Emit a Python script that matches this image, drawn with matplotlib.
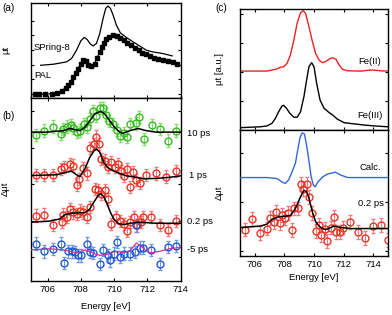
import matplotlib
matplotlib.use("Agg")
import matplotlib.pyplot as plt

plt.rcParams['font.family'] = ['Liberation Sans', 'DejaVu Sans']
plt.rcParams['font.size'] = 6.6

# ---------------- Panel (a) ----------------
spring8_E = [705.58, 706.34, 707.14, 707.44, 707.74, 708.0, 708.2, 708.38, 708.58, 708.74, 708.94,
             709.14, 709.34, 709.5, 709.64, 709.78, 709.94, 710.14, 710.38, 710.74, 711.14, 711.54,
             711.94, 712.34, 712.94, 713.5]
spring8_mu = [1.95, 2.02, 2.18, 2.41, 2.98, 3.62, 3.85, 3.71, 3.39, 3.27, 3.44,
              4.12, 5.15, 5.84, 5.99, 5.84, 5.38, 4.69, 4.16, 3.85, 3.55, 3.27,
              2.98, 2.86, 2.75, 2.59]
pal_E = [705.24, 705.5, 705.84, 706.24, 706.54, 706.84, 707.08, 707.24, 707.38, 707.54, 707.7,
         707.84, 707.98, 708.14, 708.3, 708.44, 708.64, 708.84, 708.98, 709.14, 709.28, 709.4,
         709.54, 709.7, 709.94, 710.18, 710.38, 710.58, 710.78, 711.0, 711.24, 711.48, 711.7,
         711.94, 712.18, 712.4, 712.64, 712.94, 713.24, 713.54, 713.78]
pal_mu = [-0.03, -0.03, -0.01, 0.01, 0.06, 0.19, 0.42, 0.58, 0.81, 1.15, 1.42,
          1.72, 2.07, 2.29, 2.23, 1.95, 1.93, 2.07, 2.48, 2.86, 3.21, 3.5,
          3.73, 3.89, 4.0, 3.94, 3.78, 3.66, 3.5, 3.32, 3.14, 2.98, 2.82,
          2.71, 2.59, 2.48, 2.41, 2.29, 2.23, 2.14, 2.07]

# ---------------- Panel (b) ----------------
g10_E = [705.28, 705.78, 706.3, 706.78, 706.94, 707.14, 707.38, 707.54, 707.74, 707.94, 708.18,
         708.38, 708.58, 708.74, 708.94, 709.14, 709.34, 709.5, 709.7, 709.94, 710.18, 710.38,
         710.6, 710.78, 710.94, 711.3, 711.5, 711.78, 712.3, 712.74, 713.24, 713.74]
g10_v = [3.35, 3.47, 3.58, 3.38, 3.52, 3.58, 3.63, 3.54, 3.44, 3.47, 3.65,
         3.58, 3.79, 4.0, 3.88, 4.09, 4.09, 3.91, 3.73, 3.65, 3.49, 3.33,
         3.40, 3.29, 3.65, 3.67, 3.84, 3.24, 3.62, 3.52, 3.2, 3.47]
g10_fitE = [705.0, 705.94, 706.94, 707.34, 707.64, 707.94, 708.24, 708.54, 708.84, 709.18, 709.44,
            709.74, 710.04, 710.34, 710.54, 710.94, 711.44, 711.94, 712.54, 714.0]
g10_fit = [3.43, 3.43, 3.47, 3.53, 3.50, 3.47, 3.56, 3.74, 3.93, 4.0, 3.93,
           3.74, 3.56, 3.43, 3.40, 3.47, 3.53, 3.47, 3.43, 3.43]

r1_E = [705.28, 705.78, 706.3, 706.78, 707.0, 707.34, 707.54, 707.74, 707.9, 708.14, 708.38,
        708.54, 708.78, 708.94, 709.1, 709.24, 709.44, 709.64, 709.84, 710.04, 710.24, 710.44,
        710.6, 710.78, 710.94, 711.14, 711.34, 711.54, 711.9, 712.5, 713.14, 713.74]
r1_v = [2.26, 2.26, 2.26, 2.42, 2.47, 2.56, 2.51, 1.99, 2.15, 2.45, 2.30,
        3.0, 3.11, 3.31, 3.11, 2.69, 2.65, 2.47, 2.60, 2.48, 2.56, 2.36,
        2.24, 2.42, 1.92, 2.33, 2.12, 2.03, 2.26, 2.30, 2.21, 2.36]
r1_fitE = [705.0, 706.54, 707.14, 707.44, 707.74, 707.94, 708.24, 708.54, 708.8, 708.94, 709.14,
           709.38, 709.64, 709.94, 710.34, 710.74, 711.34, 711.74, 712.54, 713.34, 714.0]
r1_fit = [2.24, 2.26, 2.33, 2.36, 2.26, 2.21, 2.42, 2.74, 2.92, 2.97, 2.88,
          2.60, 2.45, 2.37, 2.30, 2.23, 2.19, 2.15, 2.16, 2.19, 2.23]

r02_E = [705.28, 705.78, 706.3, 706.84, 706.94, 707.14, 707.34, 707.54, 707.74, 707.94, 708.14,
         708.38, 708.54, 708.84, 709.04, 709.24, 709.44, 709.64, 709.84, 710.1, 710.34, 710.6,
         710.78, 710.94, 711.18, 711.38, 711.64, 711.74, 712.24, 712.74, 713.24, 713.74]
r02_v = [1.14, 1.17, 0.89, 0.96, 1.17, 1.10, 1.32, 1.23, 1.19, 1.28, 1.23,
         1.11, 1.37, 1.87, 1.84, 1.74, 1.84, 1.60, 0.91, 1.10, 1.0, 0.91,
         0.73, 0.96, 1.10, 0.87, 0.96, 1.10, 1.11, 0.89, 0.75, 1.0]
r02_fitE = [705.0, 706.14, 706.74, 707.04, 707.54, 708.24, 708.54, 708.84, 709.04, 709.2, 709.38,
            709.58, 709.78, 709.98, 710.24, 710.54, 710.94, 711.54, 712.54, 714.0]
r02_fit = [0.96, 0.99, 1.05, 1.17, 1.21, 1.22, 1.32, 1.55, 1.69, 1.74, 1.66,
           1.46, 1.23, 1.05, 0.93, 0.89, 0.93, 0.96, 0.93, 0.93]

b5_E = [705.28, 705.78, 706.3, 706.78, 707.0, 707.24, 707.44, 707.64, 707.84, 708.04, 708.38,
        708.58, 708.74, 709.14, 709.34, 709.64, 709.78, 709.98, 710.18, 710.38, 710.58, 710.94,
        711.24, 711.34, 711.54, 711.74, 712.24, 712.74, 713.24, 713.74]
b5_v = [0.37, 0.16, 0.23, 0.37, -0.16, 0.16, 0.16, 0.14, 0.05, 0.05, 0.37,
        0.14, 0.12, -0.18, 0.20, 0.05, -0.09, 0.10, 0.42, 0.0, 0.10, 0.10,
        0.14, 0.87, 0.26, 0.26, 0.19, -0.18, 0.28, 0.30]
b5_fitE = [705.0, 706.14, 706.94, 707.54, 707.94, 708.24, 708.54, 708.84, 709.14, 709.54, 709.94,
           710.24, 710.54, 710.94, 711.14, 711.34, 711.64, 711.94, 712.24, 712.74, 713.34, 714.0]
b5_fit = [0.20, 0.23, 0.20, 0.14, 0.14, 0.20, 0.16, 0.09, 0.05, 0.07, 0.14,
          0.16, 0.11, 0.18, 0.27, 0.39, 0.30, 0.16, 0.12, 0.16, 0.23, 0.27]
err_b = 0.17

# ---------------- Panel (c) ----------------
fe2_E = [705.0, 706.82, 707.39, 707.73, 707.95, 708.18, 708.41, 708.64, 708.86, 709.09, 709.27,
         709.43, 709.66, 709.89, 710.11, 710.34, 710.57, 710.8, 711.02, 711.25, 711.48, 711.7,
         711.93, 712.27, 713.18, 713.86, 714.55, 715.0]
fe2_mu = [2.03, 2.03, 2.09, 2.16, 2.18, 2.30, 2.59, 3.10, 3.68, 4.04, 4.11,
          4.02, 3.56, 3.05, 2.64, 2.41, 2.32, 2.36, 2.44, 2.49, 2.44, 2.24,
          2.09, 2.04, 2.03, 2.07, 2.04, 2.03]
fe3_E = [705.0, 706.36, 706.82, 707.16, 707.39, 707.61, 707.84, 707.95, 708.14, 708.36, 708.64,
         708.86, 709.09, 709.32, 709.5, 709.66, 709.84, 710.0, 710.18, 710.41, 710.68, 711.02,
         711.25, 711.59, 712.05, 712.73, 713.41, 714.09, 715.0]
fe3_mu = [0.08, 0.11, 0.14, 0.23, 0.40, 0.63, 0.83, 0.85, 0.75, 0.58, 0.44,
          0.44, 0.63, 1.15, 1.72, 2.18, 2.32, 2.18, 1.61, 1.03, 0.75, 0.60,
          0.52, 0.37, 0.25, 0.21, 0.17, 0.14, 0.11]
calc_E = [705.0, 706.82, 707.5, 707.84, 708.07, 708.3, 708.52, 708.75, 708.9, 709.05, 709.2,
          709.35, 709.5, 709.65, 709.8, 709.95, 710.07, 710.27, 710.57, 710.91, 711.43, 711.82,
          712.27, 715.0]
calc_mu = [1.50, 1.50, 1.48, 1.41, 1.38, 1.46, 1.62, 1.80, 2.06, 2.31, 2.41,
           2.39, 2.16, 1.86, 1.53, 1.35, 1.31, 1.41, 1.51, 1.57, 1.61, 1.55,
           1.50, 1.50]
c02_E = [705.34, 705.84, 706.36, 706.82, 707.0, 707.27, 707.45, 707.68, 707.84, 708.07, 708.23,
         708.48, 708.64, 708.93, 709.09, 709.27, 709.5, 709.66, 709.89, 710.11, 710.34, 710.5,
         710.73, 710.91, 711.14, 711.32, 711.48, 711.73, 711.93, 712.45, 712.95, 713.45, 713.98,
         714.5, 715.0]
c02_v = [0.44, 0.65, 0.37, 0.46, 0.67, 0.60, 0.80, 0.58, 0.73, 0.67, 0.77,
         0.43, 0.87, 0.87, 1.37, 1.26, 1.37, 1.11, 0.77, 0.41, 0.53, 0.33,
         0.46, 0.21, 0.48, 0.69, 0.39, 0.39, 0.48, 0.60, 0.39, 0.26, 0.51,
         0.53, 0.22]
c02_fitE = [705.0, 706.36, 706.82, 707.16, 707.61, 708.07, 708.41, 708.75, 709.09, 709.32, 709.5,
            709.66, 709.89, 710.11, 710.34, 710.57, 710.8, 711.14, 711.36, 711.82, 712.5, 713.64, 715.0]
c02_fit = [0.48, 0.51, 0.55, 0.65, 0.70, 0.71, 0.73, 0.87, 1.11, 1.24, 1.21,
           1.08, 0.80, 0.60, 0.51, 0.46, 0.44, 0.48, 0.51, 0.48, 0.46, 0.46, 0.46]
err_c = 0.14

xticks = [706, 708, 710, 712, 714]

W, H = 392, 315
fig = plt.figure(figsize=(W / 100, H / 100), dpi=100)

def rect(l, t, r, b):
    return [l / W, 1 - b / H, (r - l) / W, (b - t) / H]

ax_a = fig.add_axes(rect(31, 3, 180.5, 97.5))
ax_b = fig.add_axes(rect(31, 97.5, 180.5, 280.5))
ax_c1 = fig.add_axes(rect(240, 9, 388, 130))
ax_c2 = fig.add_axes(rect(240, 130, 388, 256))

for ax in (ax_a, ax_b, ax_c1, ax_c2):
    ax.tick_params(direction='in', top=True, right=True, length=2.5, width=0.8,
                   labelsize=6.8, pad=3)
    for s in ax.spines.values():
        s.set_linewidth(1.0)
    ax.set_xticks(xticks)

# (a)
ax_a.plot(spring8_E, spring8_mu, color='black', lw=0.9)
ax_a.plot(pal_E, pal_mu, color='black', lw=0.8, marker='s', ms=3.0)
ax_a.set_xlim(705, 714)
ax_a.set_ylim(-0.25, 6.2)
ax_a.set_yticks([0, 1, 2, 3, 4, 5])
ax_a.tick_params(labelleft=False, labelbottom=False)
ax_a.set_ylabel('μt', fontsize=6.8)
ax_a.yaxis.set_label_coords(-21 / 149.5, 0.5)

# (b)
def eb(ax, x, y, err, mc, ec):
    ax.errorbar(x, y, yerr=err, fmt='o', mfc='none', mec=mc, mew=1.0, ms=5.0,
                ecolor=ec, elinewidth=0.8, capsize=1.6, capthick=0.8, zorder=2)

eb(ax_b, g10_E, g10_v, err_b, '#33bb22', '#88dd66')
eb(ax_b, r1_E, r1_v, err_b, '#ee3322', '#f07a80')
eb(ax_b, r02_E, r02_v, err_b, '#ee3322', '#f07a80')
eb(ax_b, b5_E, b5_v, err_b, '#2255dd', '#6f9ae0')
ax_b.plot(g10_fitE, g10_fit, color='black', lw=1.1, zorder=3)
ax_b.plot(r1_fitE, r1_fit, color='black', lw=1.1, zorder=3)
ax_b.plot(r02_fitE, r02_fit, color='black', lw=1.1, zorder=3)
ax_b.plot(b5_fitE, b5_fit, color='#cc3399', lw=0.9, zorder=3)
ax_b.set_xlim(705, 714)
ax_b.set_ylim(-0.64, 4.38)
ax_b.set_yticks([0, 1, 2, 3, 4])
ax_b.tick_params(labelleft=False)
ax_b.set_xlabel('Energy [eV]', fontsize=6.8, labelpad=6)
ax_b.set_ylabel('Δμt', fontsize=6.8)
ax_b.yaxis.set_label_coords(-21 / 149.5, 0.5)

# (c) upper
ax_c1.plot(fe2_E, fe2_mu, color='#ee2222', lw=1.0)
ax_c1.plot(fe3_E, fe3_mu, color='black', lw=1.0)
ax_c1.set_xlim(705, 715)
ax_c1.set_ylim(0, 4.17)
ax_c1.set_yticks([1, 2, 3, 4])
ax_c1.tick_params(labelleft=False, labelbottom=False)
ax_c1.set_ylabel('μt [a.u.]', fontsize=6.8)
ax_c1.yaxis.set_label_coords(-16 / 148, 0.5)

# (c) lower
ax_c2.plot(calc_E, calc_mu, color='#3366dd', lw=1.0, zorder=3)
eb(ax_c2, c02_E, c02_v, err_c, '#ee3322', '#f07a80')
ax_c2.plot(c02_fitE, c02_fit, color='black', lw=1.1, zorder=3)
ax_c2.set_xlim(705, 715)
ax_c2.set_ylim(-0.1, 2.47)
ax_c2.set_yticks([0, 1, 2])
ax_c2.tick_params(labelleft=False)
ax_c2.set_xlabel('Energy [eV]', fontsize=6.8, labelpad=3)
ax_c2.set_ylabel('Δμt', fontsize=6.8)
ax_c2.yaxis.set_label_coords(-16 / 148, 0.5)

# text labels (figure pixel positions)
def ftext(x, y, s, size=6.8):
    fig.text(x / W, 1 - y / H, s, fontsize=size, va='center')

ftext(2, 8, '(a)', 7.2)
ftext(2, 116, '(b)', 7.2)
ftext(215, 8, '(c)', 7.2)
ftext(34, 47, 'SPring-8')
ftext(34, 76, 'PAL')
ftext(187, 133, '10 ps')
ftext(189, 176, '1 ps')
ftext(187, 222, '0.2 ps')
ftext(187, 250, '-5 ps')
ftext(358, 61, 'Fe(II)')
ftext(357, 116, 'Fe(III)')
ftext(359, 167, 'Calc.')
ftext(358, 203, '0.2 ps')

fig.savefig('out.png', dpi=100)
